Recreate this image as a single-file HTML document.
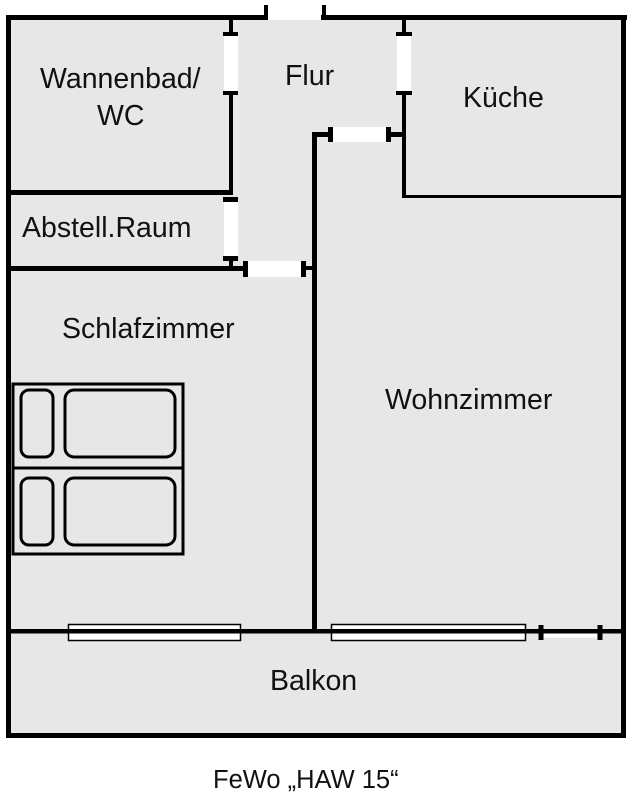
<!DOCTYPE html>
<html>
<head>
<meta charset="utf-8">
<style>
html,body{margin:0;padding:0;background:#fff;}
svg{display:block;}
text{font-family:"Liberation Sans",Arial,sans-serif;fill:#111;}
</style>
</head>
<body>
<svg width="632" height="800" viewBox="0 0 632 800" xmlns="http://www.w3.org/2000/svg">
  <!-- floor fill -->
  <rect x="8" y="17" width="615" height="718" fill="#e7e7e7"/>
  <!-- top entry gap white above wall line -->
  <rect x="268" y="0" width="53" height="20" fill="#fff"/>

  <g fill="#000">
    <!-- outer walls -->
    <rect x="6" y="15" width="262" height="5"/>
    <rect x="264" y="5" width="4" height="15"/>
    <rect x="321" y="15" width="306" height="5"/>
    <rect x="322" y="5" width="4" height="15"/>
    <rect x="6" y="15" width="5" height="722"/>
    <rect x="621" y="15" width="5" height="722"/>
    <rect x="6" y="733" width="620" height="5"/>

    <!-- bathroom right wall (x~231) -->
    <rect x="229" y="18" width="4" height="16"/>
    <rect x="223" y="32" width="15" height="4"/>
    <rect x="223" y="91" width="15" height="4"/>
    <rect x="229" y="93" width="4" height="100"/>
    <!-- bathroom bottom wall -->
    <rect x="8" y="190" width="225" height="5"/>
    <rect x="223" y="197" width="15" height="5"/>
    <rect x="223" y="256" width="15" height="5"/>
    <rect x="229" y="259" width="4" height="10"/>
    <!-- abstell bottom wall -->
    <rect x="8" y="266" width="237" height="5"/>
    <rect x="243" y="261" width="5" height="16"/>
    <rect x="301" y="261" width="5" height="16"/>
    <rect x="305" y="266" width="10" height="4"/>

    <!-- corridor / living wall x~315 -->
    <rect x="312" y="132" width="5" height="500"/>
    <rect x="312" y="132" width="18" height="5"/>
    <rect x="328" y="127" width="5" height="15"/>
    <rect x="386" y="127" width="5" height="15"/>
    <rect x="390" y="132" width="15" height="5"/>

    <!-- kitchen left wall x~404 -->
    <rect x="402" y="18" width="4" height="16"/>
    <rect x="396" y="32" width="16" height="4"/>
    <rect x="396" y="91" width="16" height="4"/>
    <rect x="402" y="93" width="4" height="105"/>
    <!-- kitchen bottom wall -->
    <rect x="402" y="195" width="221" height="3"/>
  </g>

  <!-- door gaps (white) -->
  <g fill="#fff">
    <rect x="224" y="36" width="14" height="55"/>
    <rect x="224" y="202" width="14" height="54"/>
    <rect x="248" y="261" width="53" height="16"/>
    <rect x="333" y="127" width="53" height="15"/>
    <rect x="397" y="36" width="14" height="55"/>
  </g>

  <!-- windows on balcony wall -->
  <rect x="68.5" y="624.5" width="172" height="16" fill="#fff" stroke="#000" stroke-width="1.5"/>
  <rect x="331.5" y="624.5" width="194" height="16" fill="#fff" stroke="#000" stroke-width="1.5"/>
  <!-- balcony wall -->
  <rect x="8" y="629" width="615" height="4.5" fill="#000"/>
  <!-- balcony door -->
  <rect x="544" y="633.5" width="53" height="4" fill="#fff"/>
  <rect x="538.5" y="625" width="5" height="15" fill="#000"/>
  <rect x="597.5" y="625" width="5" height="15" fill="#000"/>

  <!-- beds -->
  <g fill="none" stroke="#000" stroke-width="3">
    <rect x="13" y="384" width="170" height="170"/>
    <line x1="13" y1="468" x2="183" y2="468"/>
    <rect x="21" y="390" width="32" height="67" rx="8"/>
    <rect x="65" y="390" width="110" height="67" rx="9"/>
    <rect x="21" y="478" width="32" height="67" rx="8"/>
    <rect x="65" y="478" width="110" height="67" rx="9"/>
  </g>

  <!-- labels -->
  <g font-size="28.5">
    <text x="40" y="88">Wannenbad/</text>
    <text x="97" y="125">WC</text>
    <text x="22" y="237">Abstell.Raum</text>
    <text x="285" y="85">Flur</text>
    <text x="463" y="107">Küche</text>
    <text x="62" y="338">Schlafzimmer</text>
    <text x="385" y="409">Wohnzimmer</text>
    <text x="270" y="690">Balkon</text>
  </g>
  <text x="213" y="788" font-size="25.5">FeWo „HAW 15“</text>
</svg>
</body>
</html>
